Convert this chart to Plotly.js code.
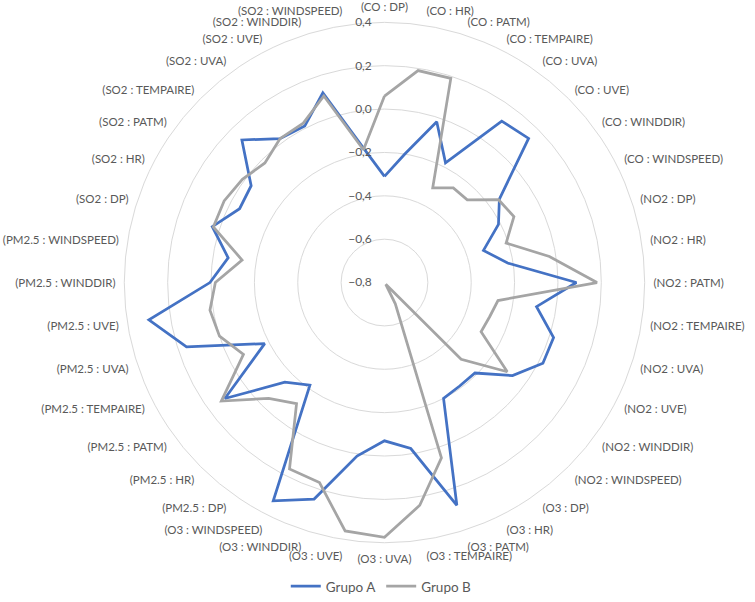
<!DOCTYPE html>
<html>
<head>
<meta charset="utf-8">
<script src="https://cdn.plot.ly/plotly-3.0.1.min.js"></script>
<style>html,body{margin:0;padding:0;background:#fff;}#chart{width:755px;height:602px;}</style>
</head>
<body>
<div id="chart"></div>
<script>
const categories = [
  "(CO : DP)", "(CO : HR)", "(CO : PATM)", "(CO : TEMPAIRE)", "(CO : UVA)", "(CO : UVE)", "(CO : WINDDIR)", "(CO : WINDSPEED)",
  "(NO2 : DP)", "(NO2 : HR)", "(NO2 : PATM)", "(NO2 : TEMPAIRE)", "(NO2 : UVA)", "(NO2 : UVE)", "(NO2 : WINDDIR)", "(NO2 : WINDSPEED)",
  "(O3 : DP)", "(O3 : HR)", "(O3 : PATM)", "(O3 : TEMPAIRE)", "(O3 : UVA)", "(O3 : UVE)", "(O3 : WINDDIR)", "(O3 : WINDSPEED)",
  "(PM2.5 : DP)", "(PM2.5 : HR)", "(PM2.5 : PATM)", "(PM2.5 : TEMPAIRE)", "(PM2.5 : UVA)", "(PM2.5 : UVE)", "(PM2.5 : WINDDIR)", "(PM2.5 : WINDSPEED)",
  "(SO2 : DP)", "(SO2 : HR)", "(SO2 : PATM)", "(SO2 : TEMPAIRE)", "(SO2 : UVA)", "(SO2 : UVE)", "(SO2 : WINDDIR)", "(SO2 : WINDSPEED)"
];
const grupoA = [
  -0.31, -0.20, -0.02, -0.18, 0.12, 0.14, -0.145, -0.21,
  -0.32, -0.225, 0.085, -0.09, 0.02, 0.02, -0.07, -0.21,
  -0.21, -0.20, 0.28, -0.025, -0.07, 0.01, 0.25, 0.33,
  -0.215, -0.15, 0.11, -0.18, 0.16, 0.30, 0.005, -0.07,
  0.035, -0.05, -0.04, 0.13, 0.02, 0.01, 0.12, -0.17
];
const grupoB = [
  0.06, 0.19, 0.19, -0.31, -0.26, -0.26, -0.15, -0.13,
  -0.21, -0.03, 0.18, -0.27, -0.29, -0.30, -0.10, -0.30,
  -0.79, -0.69, 0.05, 0.24, 0.375, 0.36, 0.17, 0.165,
  -0.11, -0.045, 0.13, -0.07, 0.0, 0.015, -0.02, -0.135,
  0.03, 0.03, 0.01, -0.02, 0.02, 0.025, 0.105, -0.18
];
const radialTicks = [-0.8, -0.6, -0.4, -0.2, 0, 0.2, 0.4];

function closed(arr) { return arr.concat([arr[0]]); }

const traces = [
  {type: 'scatterpolar', mode: 'lines', name: 'Grupo A',
   r: closed(grupoA), theta: closed(categories),
   line: {color: '#4472C4', width: 2.75}},
  {type: 'scatterpolar', mode: 'lines', name: 'Grupo B',
   r: closed(grupoB), theta: closed(categories),
   line: {color: '#A5A5A5', width: 2.75}}
];

const layout = {
  width: 755, height: 602,
  margin: {l: 0, r: 0, t: 0, b: 0},
  paper_bgcolor: '#ffffff',
  separators: ', ',
  font: {family: 'Lato, "Liberation Sans", sans-serif', color: '#595959', size: 12},
  showlegend: true,
  legend: {orientation: 'h', x: 0.505, xanchor: 'center', y: 0.006, yanchor: 'middle',
           font: {size: 13.5, color: '#595959'}, itemwidth: 30},
  polar: {
    bgcolor: 'rgba(0,0,0,0)',
    domain: {x: [0.1576, 0.8609], y: [0.0801, 0.9621]},
    radialaxis: {
      range: [-0.8, 0.4], tickvals: radialTicks, tickformat: '.1f',
      angle: 90, side: 'counterclockwise', tickangle: 90,
      showline: false, ticks: 'outside', ticklen: 8, tickcolor: 'rgba(0,0,0,0)',
      gridcolor: '#D9D9D9', gridwidth: 1,
      tickfont: {size: 12, color: '#595959'}
    },
    angularaxis: {
      type: 'category', rotation: 90, direction: 'clockwise',
      showgrid: false, showline: true, linecolor: '#D9D9D9', linewidth: 1,
      ticks: 'outside', ticklen: 6, tickcolor: 'rgba(0,0,0,0)',
      tickfont: {size: 11.5, color: '#595959'}
    }
  }
};

Plotly.newPlot('chart', traces, layout, {displayModeBar: false, staticPlot: true});
</script>
</body>
</html>
